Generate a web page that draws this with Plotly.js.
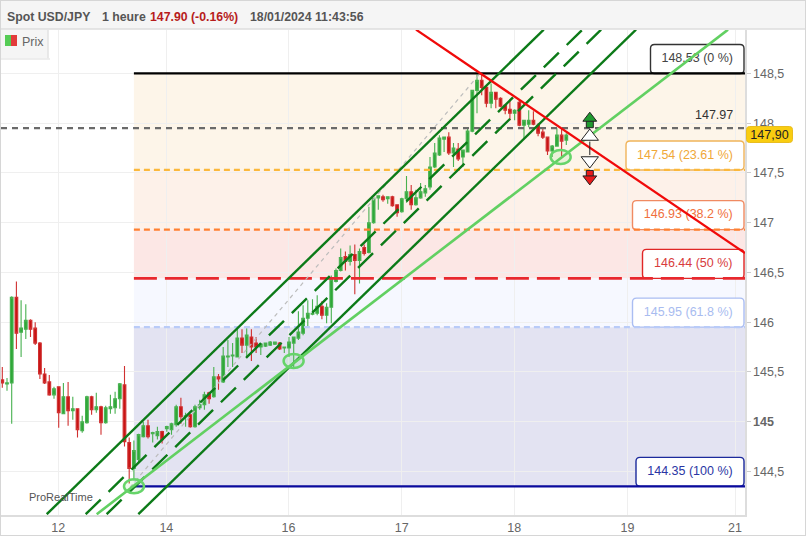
<!DOCTYPE html>
<html>
<head>
<meta charset="utf-8">
<script src="https://cdn.plot.ly/plotly-3.0.1.min.js"></script>
<style>
html,body{margin:0;padding:0;background:#fff;overflow:hidden}
#chart{width:806px;height:536px}
#frame{position:absolute;left:0;top:0;width:806px;height:536px;box-sizing:border-box;border:1.5px solid #d6d6d6;pointer-events:none}
</style>
</head>
<body>
<div id="chart"></div>
<div id="frame"></div>
<script>
const candleOpen = [
145.42,145.38,145.39,146.25,145.90,145.93,146.02,145.94,145.79,145.48,
145.40,145.27,145.35,145.08,145.25,145.11,145.13,144.91,144.99,145.25,
145.12,145.15,144.99,145.13,145.14,145.23,145.37,144.79,144.53,144.62,
144.85,144.96,144.88,144.86,144.90,144.93,144.92,144.97,145.15,145.05,
145.07,144.95,145.14,145.17,145.29,145.25,145.45,145.40,145.65,145.66,
145.65,145.84,145.77,145.85,145.79,145.75,145.76,145.77,145.78,145.79,
145.74,145.74,145.79,145.84,145.89,146.04,146.08,146.09,146.16,146.07,
146.15,146.41,146.52,146.66,146.61,146.68,146.62,146.75,146.70,147.00,
147.25,147.26,147.24,147.26,147.18,147.11,147.24,147.31,147.18,147.25,
147.30,147.36,147.56,147.68,147.84,147.86,147.70,147.74,147.66,147.71,
147.92,148.33,148.43,148.36,148.20,148.31,148.25,148.18,148.14,148.10,
148.21,147.98,147.99,148.03,147.98,147.91,147.86,147.72,147.77,147.88,147.83];
const candleHigh = [
145.55,145.44,146.26,146.41,146.22,146.18,146.03,146.00,145.80,145.54,
145.47,145.35,145.35,145.39,145.40,145.25,145.13,145.06,145.26,145.26,
145.29,145.16,145.16,145.27,145.30,145.39,145.56,144.84,144.81,144.88,
145.00,145.02,144.90,144.95,144.91,144.96,144.99,145.17,145.24,145.09,
145.08,145.17,145.22,145.30,145.30,145.55,145.48,145.75,145.82,145.79,
145.94,145.93,145.94,145.93,145.85,145.79,145.79,145.81,145.80,145.80,
145.75,145.85,145.85,146.11,146.17,146.22,146.23,146.27,146.21,146.19,
146.47,146.54,146.74,146.71,146.77,146.78,146.74,146.78,147.16,147.25,
147.27,147.28,147.26,147.27,147.18,147.25,147.47,147.38,147.33,147.40,
147.38,147.66,147.80,147.88,147.86,147.91,147.80,147.80,147.73,147.96,
148.33,148.49,148.49,148.38,148.40,148.31,148.26,148.18,148.23,148.14,
148.23,148.03,148.13,148.12,148.00,147.96,147.86,147.78,147.95,147.95,147.90];
const candleLow = [
145.34,145.31,144.98,145.73,145.65,145.83,145.85,145.77,145.43,145.38,
145.26,145.23,144.94,145.08,144.96,145.02,144.84,144.89,144.98,145.07,
145.09,144.87,144.98,145.08,145.08,145.13,144.75,144.38,144.41,144.58,
144.84,144.83,144.79,144.82,144.78,144.90,144.87,144.95,144.98,144.95,
144.94,144.94,145.12,145.12,145.18,145.24,145.32,145.39,145.55,145.55,
145.65,145.69,145.65,145.61,145.69,145.67,145.75,145.76,145.77,145.72,
145.69,145.65,145.55,145.82,145.87,145.95,146.07,146.07,146.03,145.99,
145.99,146.40,146.51,146.52,146.57,146.28,146.39,146.67,146.69,146.99,
147.13,147.21,147.19,147.16,147.06,147.10,147.20,147.13,147.17,147.24,
147.26,147.33,147.55,147.67,147.71,147.68,147.56,147.62,147.56,147.71,
147.91,148.10,148.28,148.16,148.15,148.15,148.16,148.09,148.03,148.03,
147.97,147.85,147.96,147.98,147.87,147.84,147.68,147.66,147.77,147.65,147.78];
const candleClose = [
145.39,145.39,146.25,145.89,145.94,146.02,145.93,145.79,145.48,145.39,
145.27,145.33,145.09,145.25,145.11,145.13,144.92,145.00,145.25,145.12,
145.15,144.99,145.14,145.15,145.23,145.38,144.80,144.53,144.71,144.87,
144.96,144.85,144.89,144.90,144.82,144.95,144.98,145.15,145.05,145.06,
144.95,145.15,145.17,145.27,145.23,145.45,145.43,145.66,145.66,145.67,
145.84,145.77,145.87,145.75,145.75,145.78,145.79,145.80,145.80,145.73,
145.75,145.80,145.85,145.90,146.04,146.09,146.09,146.16,146.07,146.15,
146.43,146.52,146.65,146.61,146.68,146.62,146.71,146.69,147.00,147.24,
147.27,147.23,147.26,147.17,147.10,147.24,147.31,147.18,147.25,147.31,
147.34,147.56,147.70,147.85,147.86,147.70,147.75,147.64,147.73,147.92,
148.33,148.43,148.36,148.20,148.31,148.24,148.17,148.13,148.10,148.13,
147.98,148.03,148.03,147.99,147.90,147.86,147.72,147.77,147.88,147.82,147.88];

const xTickBars = [11.9,34.9,60.9,85,108.9,133,155.9];
const xTickText = ['12','14','16','17','18','19','21'];
const yTickVals = [144.5,145,145.5,146,146.5,147,147.5,148,148.5];
const yTickText = ['144,5','<b>145</b>','145,5','146','146,5','147','147,5','148','148,5'];

const fibValues = ['148.53','147.54','146.93','146.44','145.95','144.35'];
const fibPercents = ['0','23.61','38.2','50','61.8','100'];
const fibDrawnAt = [148.50,147.53,146.93,146.44,145.95,144.35];
const fibStartBar = 28;

const channelUpper = {bars:[9.45,115.2], prices:[144.07,148.94]};
const channelLower = {bars:[28.94,134.83], prices:[144.07,148.94]};
const channelMidA = {bars:[17.74,123.43], prices:[144.07,148.94]};
const channelMidB = {bars:[22.2,127.4], prices:[144.07,148.94]};
const supportLine = {bars:[20.09,154.4], prices:[144.07,148.94]};
const resistLine = {bars:[88.02,158.02], prices:[148.94,146.695]};
const diagonalLine = {bars:[27.17,101.64], prices:[144.34,148.50]};
const touchBars = [28.02,61.98,118.8];
const touchPrices = [144.35,145.61,147.66];
const pivotPrice = 147.95;
const lastPrice = 147.90;
const signalBar = 125;

// ---- layout geometry
const W=806,H=536,mL=1,mR=61,mT=30,mB=21;
const xRange=[-0.2766,158.02], yRange=[144.0623,148.9367];
const pw=W-mL-mR, ph=H-mT-mB;
const barPerPx=(xRange[1]-xRange[0])/pw, pricePerPx=(yRange[1]-yRange[0])/ph;
const px2paperX=p=>(p-mL)/pw, px2paperY=p=>1-(p-mT)/ph;

const bandColors=['#fdf5e9','#fdf1e9','#fce7e5','#f6f8ff','#e3e3f2'];
const boxBorders=['#333333','#f0b45a','#f08a62','#e02626','#aabdf2','#1c2a9c'];
const textColors=['#444444','#f0a838','#f0703c','#d83c3c','#a8bcf0','#2a36a4'];
const lineColors=['#000000','#fbb83c','#ff8030','#e8282e','#b9cbf8','#0a0a9c'];
const lineDashes=['solid','6px,4px','6px,4px','23px,8px','6px,4px','solid'];
const boxWidthsPx=[93.5,118,111.5,101.5,111.5,108];
const boxHeightPx=29;

function roundedBox(level,wpx,stroke){
  const x1=xRange[1]-1*barPerPx, x0=x1-wpx*barPerPx, y0=level, y1=level+boxHeightPx*pricePerPx;
  const rx=4*barPerPx, ry=4*pricePerPx;
  const path=`M${x0+rx},${y0} L${x1-rx},${y0} Q${x1},${y0} ${x1},${y0+ry} L${x1},${y1-ry} Q${x1},${y1} ${x1-rx},${y1} L${x0+rx},${y1} Q${x0},${y1} ${x0},${y1-ry} L${x0},${y0+ry} Q${x0},${y0} ${x0+rx},${y0} Z`;
  return {type:'path',path,xref:'x',yref:'y',layer:'between',fillcolor:'#ffffff',line:{color:stroke,width:1.4}};
}

const shapes=[];
// header and legend strip
shapes.push({type:'rect',xref:'paper',yref:'paper',x0:px2paperX(0),x1:px2paperX(806),y0:px2paperY(29),y1:px2paperY(0),fillcolor:'#f5f5f5',line:{width:0},layer:'below'});
shapes.push({type:'line',xref:'paper',yref:'paper',x0:px2paperX(0),x1:px2paperX(806),y0:px2paperY(29),y1:px2paperY(29),line:{color:'#dcdcdc',width:1.5}});
shapes.push({type:'rect',xref:'paper',yref:'paper',x0:px2paperX(0),x1:px2paperX(48),y0:px2paperY(58.5),y1:px2paperY(30),fillcolor:'#f5f5f5',line:{width:0}});
shapes.push({type:'line',xref:'paper',yref:'paper',x0:px2paperX(48),x1:px2paperX(48),y0:px2paperY(58.5),y1:px2paperY(30),line:{color:'#e2e2e2',width:1.5}});
shapes.push({type:'line',xref:'paper',yref:'paper',x0:px2paperX(0),x1:px2paperX(50),y0:px2paperY(59),y1:px2paperY(59),line:{color:'#e8e8e8',width:1.5}});
shapes.push({type:'rect',xref:'paper',yref:'paper',x0:px2paperX(5),x1:px2paperX(11),y0:px2paperY(46),y1:px2paperY(35),fillcolor:'#55cc55',line:{width:0}});
shapes.push({type:'rect',xref:'paper',yref:'paper',x0:px2paperX(11),x1:px2paperX(17),y0:px2paperY(46),y1:px2paperY(35),fillcolor:'#e23b3b',line:{width:0}});
// fibonacci bands
bandColors.forEach((c,k)=>shapes.push({type:'rect',xref:'x',yref:'y',x0:fibStartBar,x1:xRange[1],y0:fibDrawnAt[k+1],y1:fibDrawnAt[k],fillcolor:c,line:{width:0},layer:'below'}));
// label boxes
fibDrawnAt.forEach((lv,k)=>shapes.push(roundedBox(lv,boxWidthsPx[k],boxBorders[k])));
// touch ellipses
touchBars.forEach((b,k)=>shapes.push({type:'circle',xref:'x',yref:'y',xsizemode:'pixel',ysizemode:'pixel',xanchor:b,yanchor:touchPrices[k],x0:-10,x1:10,y0:-7,y1:7,line:{color:'#66d46a',width:2.5},fillcolor:'rgba(102,212,106,0.12)',layer:'above'}));

const traces=[];
traces.push({type:'candlestick',x:candleOpen.map((_,i)=>i),open:candleOpen,high:candleHigh,low:candleLow,close:candleClose,
  increasing:{line:{color:'#48b150',width:1.1},fillcolor:'#2fa838'},
  decreasing:{line:{color:'#d03030',width:1.1},fillcolor:'#c81414'},
  whiskerwidth:0,showlegend:false,hoverinfo:'skip'});
// label text (drawn before the lines so that the lines run over it)
traces.push({type:'scatter',mode:'text',
  x:boxWidthsPx.map(w=>xRange[1]-(1+w/2)*barPerPx),
  y:fibDrawnAt.map(l=>l+boxHeightPx/2*pricePerPx),
  text:fibValues.map((v,k)=>`${v} (${fibPercents[k]} %)`),
  textposition:'middle center',textfont:{family:'"Liberation Sans",Arial,sans-serif',size:12.5,color:textColors},
  showlegend:false,hoverinfo:'skip',cliponaxis:false});
// fib level lines and pivot
fibDrawnAt.forEach((lv,k)=>traces.push({type:'scatter',mode:'lines',x:[fibStartBar,xRange[1]],y:[lv,lv],line:{color:lineColors[k],width:k===3?2.6:2.2,dash:lineDashes[k]},showlegend:false,hoverinfo:'skip'}));
traces.push({type:'scatter',mode:'lines',x:[xRange[0],xRange[1]],y:[pivotPrice,pivotPrice],line:{color:'#6a6a6a',width:2.2,dash:'6px,5px'},showlegend:false,hoverinfo:'skip'});
// diagonal and channels
const addLine=(l,color,width,dash)=>traces.push({type:'scatter',mode:'lines',x:l.bars,y:l.prices,line:{color,width,dash},showlegend:false,hoverinfo:'skip'});
addLine(diagonalLine,'#bcbcbc',1.2,'4px,4px');
addLine(channelUpper,'#0c7a18',2.4,'solid');
addLine(channelLower,'#0c7a18',2.4,'solid');
addLine(channelMidA,'#0c7a18',2.4,'21px,11px');
addLine(channelMidB,'#0c7a18',2.4,'21px,11px');
addLine(supportLine,'#62d062',2.6,'solid');
addLine(resistLine,'#f00a0a',2.3,'solid');
// signal arrows
const marker=(price,symbol,size,fill)=>traces.push({type:'scatter',mode:'markers',x:[signalBar],y:[price],marker:{symbol,size,color:fill,line:{color:'#222222',width:1}},showlegend:false,hoverinfo:'skip'});
traces.push({type:'scatter',mode:'lines',x:[signalBar,signalBar],y:[147.815,147.68],line:{color:'#222222',width:1},showlegend:false,hoverinfo:'skip'});
marker(147.99,'square',7,'#1f9a2f');
marker(148.05,'triangle-up',12,'#1f9a2f');
marker(147.866,'triangle-up',15,'#ffffff');
marker(147.625,'triangle-down',15,'#ffffff');
marker(147.49,'square',7,'#ea1a1a');
marker(147.44,'triangle-down',12,'#ea1a1a');

const fontFam='"Liberation Sans",Arial,sans-serif';
const headerText=(x,text,color)=>({xref:'paper',yref:'paper',x:px2paperX(x),y:px2paperY(16.5),xanchor:'left',yanchor:'middle',showarrow:false,text:`<b>${text}</b>`,font:{family:fontFam,size:12.3,color}});
const annotations=[
  headerText(4.5,'Spot USD/JPY','#555555'),
  headerText(99.5,'1 heure','#555555'),
  headerText(147.5,'147.90 (-0.16%)','#b71c1c'),
  headerText(247.5,'18/01/2024 11:43:56','#555555'),
  {xref:'paper',yref:'paper',x:px2paperX(19.5),y:px2paperY(41.5),xanchor:'left',yanchor:'middle',showarrow:false,text:'Prix',font:{family:fontFam,size:12.5,color:'#666666'}},
  {xref:'paper',yref:'paper',x:px2paperX(26.5),y:px2paperY(497),xanchor:'left',yanchor:'middle',showarrow:false,text:'ProRealTime',font:{family:fontFam,size:11,color:'#555555'}},
  {xref:'paper',yref:'paper',x:px2paperX(735),y:px2paperY(114.5),xanchor:'right',yanchor:'middle',showarrow:false,text:'147.97',font:{family:fontFam,size:12.5,color:'#333333'}},
  {xref:'paper',yref:'paper',x:px2paperX(745.5),y:px2paperY(134.7),xanchor:'left',yanchor:'middle',showarrow:false,text:'147,90',width:45,height:15,align:'center',font:{family:fontFam,size:12.5,color:'#222222'},bgcolor:'#f9cd10',bordercolor:'#e9bd20',borderwidth:1,borderpad:0}
];

const layout={
  width:W,height:H,margin:{l:mL,r:mR,t:mT,b:mB,pad:0},
  paper_bgcolor:'rgba(0,0,0,0)',plot_bgcolor:'rgba(0,0,0,0)',showlegend:false,boxgap:0.18,
  font:{family:fontFam,size:12.5,color:'#666666'},
  xaxis:{type:'linear',range:xRange,tickmode:'array',tickvals:xTickBars,ticktext:xTickText,showgrid:true,gridcolor:'#efefef',gridwidth:1,zeroline:false,
    showline:true,linecolor:'#dddddd',linewidth:1.5,ticks:'',tickfont:{size:12.5,color:'#666666'},rangeslider:{visible:false},fixedrange:true},
  yaxis:{type:'linear',range:yRange,side:'right',tickmode:'array',tickvals:yTickVals,ticktext:yTickText,showgrid:true,gridcolor:'#efefef',gridwidth:1,zeroline:false,
    showline:true,linecolor:'#dddddd',linewidth:1.5,ticks:'outside',ticklen:4,tickcolor:'#cccccc',tickfont:{size:12.5,color:'#666666'},fixedrange:true},
  shapes,annotations
};
Plotly.newPlot('chart',traces,layout,{displayModeBar:false,staticPlot:true}).then(()=>{
  document.querySelectorAll('.annotation rect.bg').forEach(r=>{r.setAttribute('rx',3);r.setAttribute('ry',3);});
});
</script>
</body>
</html>
